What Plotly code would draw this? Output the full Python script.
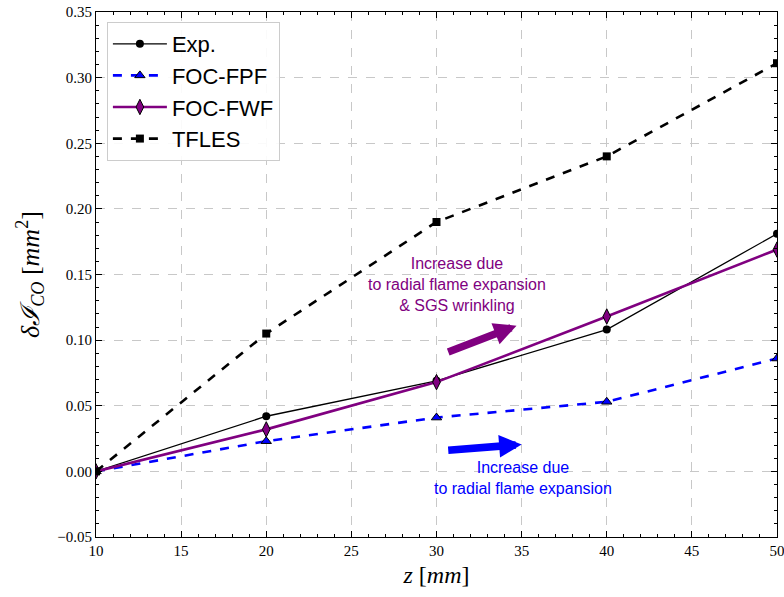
import plotly.graph_objects as go

z = [10, 20, 30, 40, 50]
exp_vals = [0.0, 0.042, 0.069, 0.108, 0.181]
foc_fpf = [0.0, 0.023, 0.041, 0.053, 0.086]
foc_fwf = [0.0, 0.032, 0.068, 0.118, 0.169]
tfles = [0.0, 0.105, 0.190, 0.240, 0.311]

x_ticks = [10, 15, 20, 25, 30, 35, 40, 45, 50]
y_ticks = [-0.05, 0.0, 0.05, 0.10, 0.15, 0.20, 0.25, 0.30, 0.35]

PURPLE = "#800080"
BLUE = "#0000ff"

fig = go.Figure()
fig.add_trace(go.Scatter(
    x=z, y=exp_vals, name="Exp.", mode="lines+markers",
    line=dict(color="black", width=1.3),
    marker=dict(symbol="circle", size=8, color="black")))
fig.add_trace(go.Scatter(
    x=z, y=foc_fpf, name="FOC-FPF", mode="lines+markers",
    line=dict(color=BLUE, width=2.6, dash="dash"),
    marker=dict(symbol="triangle-up", size=9, color=BLUE,
                line=dict(color="black", width=1))))
fig.add_trace(go.Scatter(
    x=z, y=foc_fwf, name="FOC-FWF", mode="lines+markers",
    line=dict(color=PURPLE, width=2.6),
    marker=dict(symbol="diamond-tall", size=11, color=PURPLE,
                line=dict(color="black", width=1))))
fig.add_trace(go.Scatter(
    x=z, y=tfles, name="TFLES", mode="lines+markers",
    line=dict(color="black", width=2.6, dash="dash"),
    marker=dict(symbol="square", size=8, color="black")))

# arrows
fig.add_annotation(x=34.7, y=0.111, ax=30.6, ay=0.0905, xref="x", yref="y",
                   axref="x", ayref="y", text="", showarrow=True,
                   arrowhead=2, arrowsize=0.6, arrowwidth=7.5, arrowcolor=PURPLE)
fig.add_annotation(x=35.0, y=0.0205, ax=30.6, ay=0.016, xref="x", yref="y",
                   axref="x", ayref="y", text="", showarrow=True,
                   arrowhead=2, arrowsize=0.6, arrowwidth=7.5, arrowcolor=BLUE)

fig.add_annotation(x=31.23, y=0.1427, xref="x", yref="y", showarrow=False,
                   text="Increase due<br>to radial flame expansion<br>& SGS wrinkling",
                   font=dict(family="Liberation Sans, Arial", size=16, color=PURPLE),
                   align="center")
fig.add_annotation(x=35.1, y=-0.0053, xref="x", yref="y", showarrow=False,
                   text="Increase due<br>to radial flame expansion",
                   font=dict(family="Liberation Sans, Arial", size=16, color=BLUE),
                   align="center")

axis_common = dict(
    showline=True, linecolor="black", linewidth=1.2, mirror="allticks",
    ticks="inside", ticklen=6, tickcolor="black", tickwidth=1,
    showgrid=True, gridcolor="#c8c8c8", griddash="dash", gridwidth=1,
    zeroline=False, automargin=False, ticklabeloverflow="allow",
    tickfont=dict(family="Liberation Serif, DejaVu Serif", size=15, color="black"),
)

fig.update_xaxes(
    range=[10, 50], tickvals=x_ticks, ticktext=[str(v) for v in x_ticks],
    minor=dict(dtick=1, ticks="inside", ticklen=3, tickcolor="black", showgrid=False),
    title=dict(text="<i>z</i> [<i>mm</i>]",
               font=dict(family="Liberation Serif, DejaVu Serif", size=24, color="black"),
               standoff=8),
    **axis_common)
fig.update_yaxes(
    range=[-0.05, 0.35], tickvals=y_ticks,
    ticktext=["\u22120.05" if v < 0 else f"{v:.2f}" for v in y_ticks],
    minor=dict(dtick=0.01, tick0=0, ticks="inside", ticklen=3, tickcolor="black", showgrid=False),
    title=dict(text="<i>δℐ<sub>CO</sub></i> [<i>mm</i><sup>2</sup>]",
               font=dict(family="Liberation Serif, DejaVu Serif", size=26, color="black"),
               standoff=10),
    **axis_common)

fig.update_layout(
    width=784, height=597,
    margin=dict(l=96, r=7, t=12, b=60),
    plot_bgcolor="white", paper_bgcolor="white",
    legend=dict(x=0.016, y=0.981, xanchor="left", yanchor="top",
                bgcolor="rgba(255,255,255,0.9)", bordercolor="#cccccc", borderwidth=1,
                font=dict(family="Liberation Sans, Arial", size=22, color="black"),
                itemwidth=54, tracegroupgap=4),
    showlegend=True,
)

fig.write_html("out.html",
               config={"displayModeBar": False},
               post_script="document.body.style.margin='0';document.body.style.overflow='hidden';")
